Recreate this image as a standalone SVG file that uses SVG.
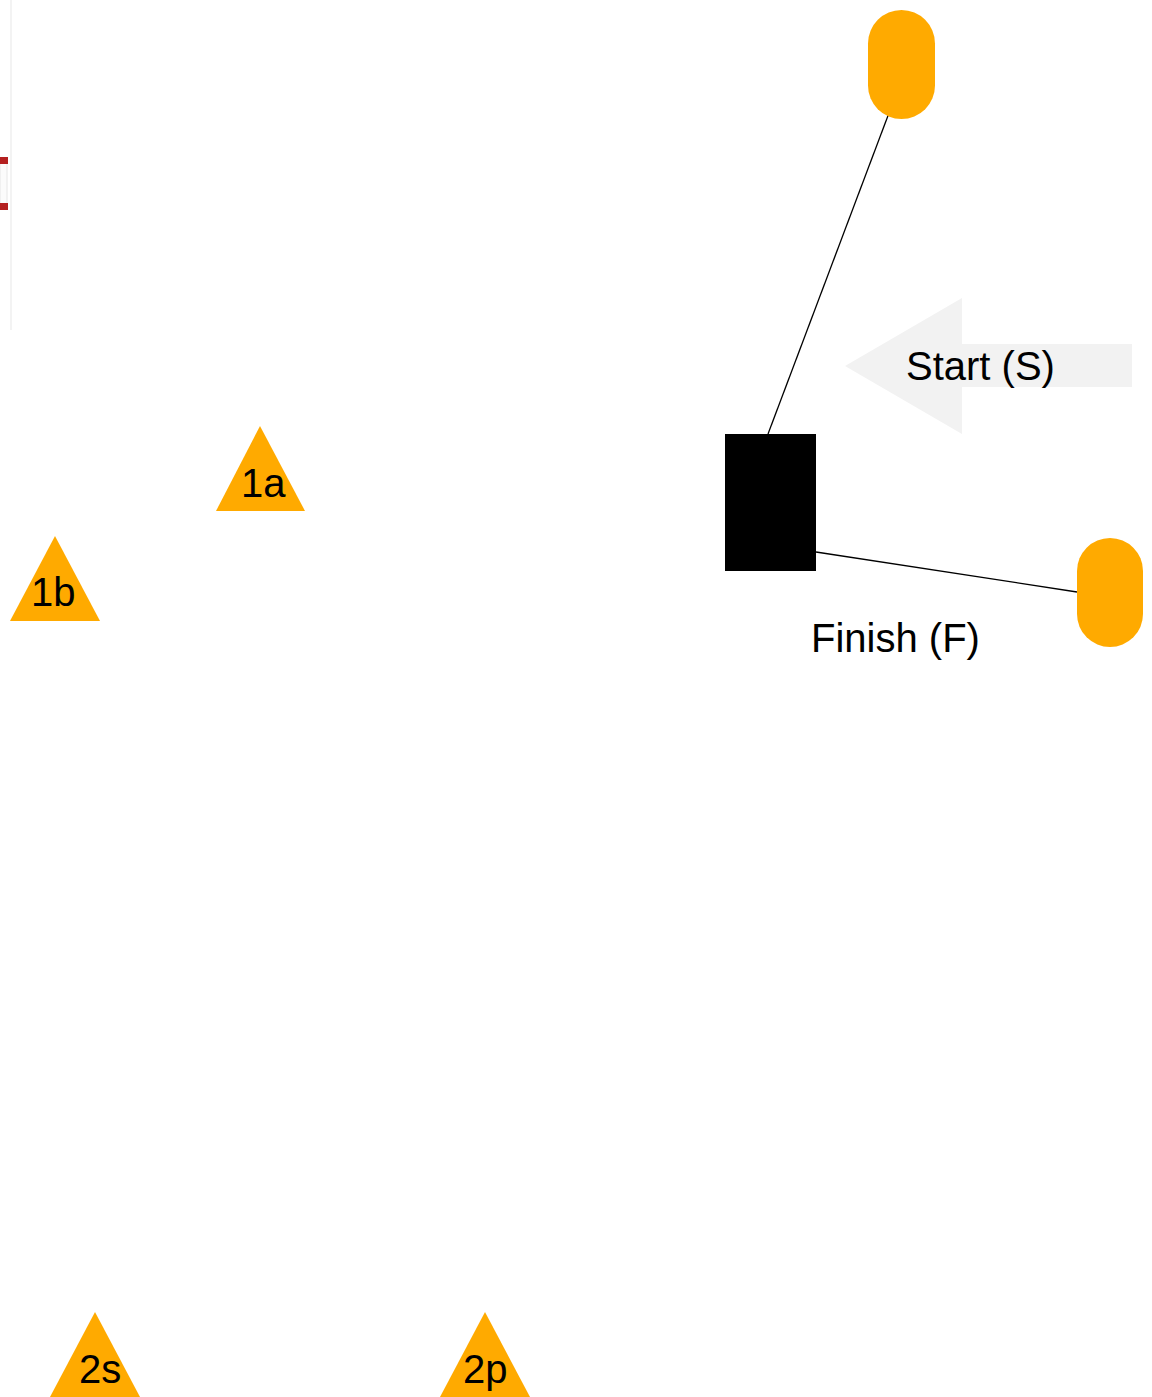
<svg xmlns="http://www.w3.org/2000/svg" width="1152" height="1397" viewBox="0 0 1152 1397">
<style>
.lbl{font-family:"Liberation Sans",Arial,sans-serif;font-size:40px;fill:#000}
.cone{fill:#FFAA00}
.pole{fill:#FFAA00}
.conn{stroke:#000;stroke-width:1.3;fill:none}
</style>
<rect x="0" y="0" width="1152" height="1397" fill="#fff"/>
<g id="edge-fragment">
<line x1="11" y1="0" x2="11" y2="330" stroke="#f3f3f3" stroke-width="2"/>
<rect x="0" y="163" width="7" height="41" fill="#fbfbfb" stroke="#e6e6e6" stroke-width="1"/>
<rect x="0" y="157" width="8" height="7" fill="#b42020"/>
<rect x="0" y="203" width="8" height="7" fill="#b42020"/>
</g>
<g id="connectors">
<line class="conn" x1="889" y1="113" x2="768" y2="434"/>
<line class="conn" x1="816" y1="552" x2="1077" y2="592"/>
</g>
<g id="start-arrow">
<polygon points="845,366 962,298 962,344 1132,344 1132,387 962,387 962,434" fill="#f2f2f2"/>
<text class="lbl" x="906" y="380">Start (S)</text>
</g>
<g id="pole-top">
<rect class="pole" x="868" y="10" width="67" height="109" rx="33.5" ry="33.5"/>
</g>
<g id="pole-right">
<rect class="pole" x="1077" y="538" width="66" height="109" rx="33" ry="33"/>
</g>
<g id="finish-box">
<rect x="725" y="434" width="91" height="137" fill="#000"/>
</g>
<g id="finish-label">
<text class="lbl" x="811" y="652">Finish (F)</text>
</g>
<g id="cone-1a">
<polygon class="cone" points="260,426 305,511 216,511"/>
<text class="lbl" x="241" y="497">1a</text>
</g>
<g id="cone-1b">
<polygon class="cone" points="55,536 100,621 10,621"/>
<text class="lbl" x="31" y="606">1b</text>
</g>
<g id="cone-2s">
<polygon class="cone" points="95,1312 140,1397 50,1397"/>
<text class="lbl" x="79" y="1383">2s</text>
</g>
<g id="cone-2p">
<polygon class="cone" points="485,1312 530,1397 440,1397"/>
<text class="lbl" x="463" y="1383">2p</text>
</g>
</svg>
